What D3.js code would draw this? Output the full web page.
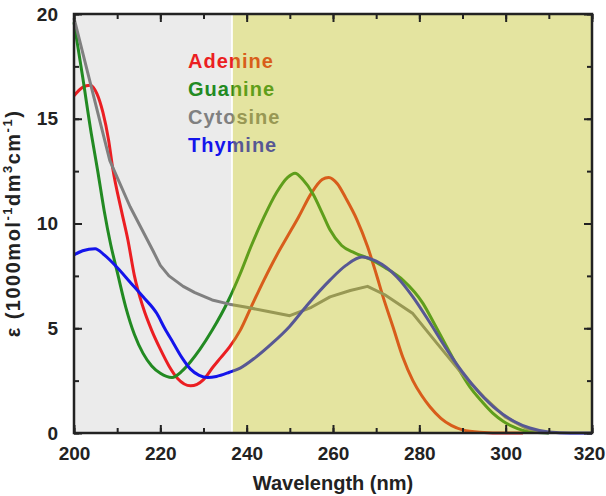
<!DOCTYPE html>
<html>
<head>
<meta charset="utf-8">
<script src="https://cdn.jsdelivr.net/npm/d3@7"></script>
<style>
  body { margin: 0; background: #fff; }
  svg { display: block; font-family: "Liberation Sans", Arial, sans-serif; font-weight: bold; }
</style>
</head>
<body>
<svg id="chart" width="606" height="496"></svg>
<script>
// wavelength (nm) vs molar absorptivity (1000 mol-1 dm3 cm-1)
var adenine = [[200,16.1],[202,16.5],[203.7,16.6],[205.3,16.2],[206.7,15.3],[208,14.0],[209,12.6],[211,10.6],[212.5,9.2],[214,7.5],[216,6.0],[218,4.9],[220,4.0],[222,3.2],[224,2.6],[227,2.25],[230,2.55],[232.2,3.15],[234,3.6],[236,4.1],[238.5,4.9],[241,6.0],[244,7.3],[247,8.5],[249.5,9.4],[252,10.3],[255,11.45],[257.5,12.1],[259,12.2],[261,11.9],[263,11.2],[265.5,10.2],[268,8.9],[270,7.6],[271.6,6.5],[274,5.0],[276.2,3.6],[278.5,2.5],[280.5,1.8],[282.5,1.24],[285,0.7],[287.5,0.35],[290,0.15],[294,0.04],[300,0],[304,0]];
var guanine = [[200,19.6],[202,17.0],[204,14.3],[205.5,12.5],[207,10.6],[208.5,9.0],[210,7.7],[212,6.0],[214,4.7],[216,3.8],[218,3.2],[220,2.85],[222.7,2.65],[225,2.95],[227,3.4],[229.2,4.0],[232,4.9],[235.7,6.3],[238.5,7.6],[241,8.9],[244,10.3],[247,11.5],[249.5,12.2],[251.2,12.4],[253,12.1],[255.4,11.4],[257.5,10.5],[259.3,9.7],[262,8.95],[265,8.6],[268.6,8.3],[272,7.9],[276.2,7.3],[280.8,6.2],[283.5,5.2],[286.4,4.1],[289,3.1],[291.7,2.2],[294.5,1.5],[297,0.95],[299.5,0.55],[301.7,0.3],[305.6,0.05],[310,0]];
var cytosine = [[200,19.8],[208.3,13.0],[213,10.8],[218.3,8.7],[220,8.0],[222,7.5],[225.3,7.0],[228,6.7],[232,6.35],[236,6.15],[240,6.0],[245,5.8],[250,5.6],[255,6.0],[259.3,6.5],[264,6.8],[268,7.0],[272,6.6],[278.5,5.7],[284,4.3],[290,2.8],[295,1.7],[300,0.75],[305,0.2],[310,0]];
var thymine = [[200,8.5],[202,8.7],[204.9,8.8],[207,8.5],[210,7.9],[213,7.2],[216,6.5],[219.2,5.7],[221,5.0],[223,4.3],[225,3.6],[227,3.05],[229,2.75],[231,2.65],[233,2.7],[236,2.9],[238.5,3.1],[242,3.6],[246,4.3],[250,5.1],[254,6.1],[259.3,7.3],[263,8.0],[266.7,8.4],[270,8.2],[274.8,7.45],[278.5,6.5],[282.5,5.25],[286,4.1],[290,2.9],[294,1.9],[298,1.1],[302,0.55],[305.6,0.24],[310,0.05],[315,0],[320,0]];

var seriesNames = ['Adenine', 'Guanine', 'Cytosine', 'Thymine'];
var seriesData = [adenine, guanine, cytosine, thymine];
var seriesColors = ['#eb1e22', '#228a22', '#808080', '#1414eb'];

var xTicks = [200, 220, 240, 260, 280, 300, 320];
var yTicks = [0, 5, 10, 15, 20];
var grayBand = [200, 236.4];
var yellowBand = [236.8, 320];

var svg = d3.select('#chart');
var margin = {left: 74, top: 14, right: 14, bottom: 63};
var W = 606 - margin.left - margin.right;
var H = 496 - margin.top - margin.bottom;

var x = d3.scaleLinear().domain([200, 320]).range([0, W]);
var y = d3.scaleLinear().domain([0, 20]).range([H, 0]);

var g = svg.append('g').attr('transform', 'translate(' + margin.left + ',' + margin.top + ')');

g.append('rect')
    .attr('x', x(grayBand[0])).attr('y', 0)
    .attr('width', x(grayBand[1]) - x(grayBand[0])).attr('height', H)
    .attr('fill', '#ebebeb');

var line = d3.line()
    .x(function(d){ return x(d[0]); })
    .y(function(d){ return y(d[1]); });

for(var i = 0; i < seriesData.length; i++)
{
    var curve = seriesNames[i] === 'Cytosine' ? d3.curveLinear : d3.curveMonotoneX;
    g.append('path')
        .datum(seriesData[i])
        .attr('d', line.curve(curve))
        .attr('fill', 'none')
        .attr('stroke', seriesColors[i])
        .attr('stroke-width', 3)
        .attr('stroke-linejoin', 'round');
}

g.selectAll('text.legend')
    .data(seriesNames)
    .enter()
    .append('text')
    .attr('class', 'legend')
    .attr('x', 114)
    .attr('y', function(d, i){ return 54 + i * 28; })
    .attr('fill', function(d, i){ return seriesColors[i]; })
    .style('font-size', '20px')
    .style('letter-spacing', '1px')
    .text(function(d){ return d; });

// translucent yellow wash on top of the curves
g.append('rect')
    .attr('x', x(yellowBand[0])).attr('y', 0)
    .attr('width', x(yellowBand[1]) - x(yellowBand[0])).attr('height', H)
    .attr('fill', 'rgb(188,188,18)')
    .attr('fill-opacity', 0.4);

function minorTicks(lo, hi, step){
    return d3.range(lo, hi + step / 2, step);
}

function styleAxis(sel){
    sel.select('.domain').remove();
    sel.selectAll('line').attr('stroke', '#222').attr('stroke-width', 2);
    sel.selectAll('text').style('font-size', '19px').attr('fill', '#222');
}

// bottom
g.append('g').attr('transform', 'translate(0,' + H + ')')
    .call(d3.axisBottom(x).tickValues(minorTicks(200, 320, 10)).tickSize(-5).tickFormat(''))
    .call(styleAxis);
var xAxis = g.append('g').attr('transform', 'translate(0,' + H + ')')
    .call(d3.axisBottom(x).tickValues(xTicks).tickSize(-8).tickPadding(14).tickFormat(d3.format('d')))
    .call(styleAxis);
// keep the last label inside the window
xAxis.selectAll('text').filter(function(d){ return d === 320; }).attr('dx', -3);
// top
g.append('g')
    .call(d3.axisTop(x).tickValues(minorTicks(200, 320, 10)).tickSize(-5).tickFormat(''))
    .call(styleAxis);
g.append('g')
    .call(d3.axisTop(x).tickValues(xTicks).tickSize(-8).tickFormat(''))
    .call(styleAxis);
// left
g.append('g')
    .call(d3.axisLeft(y).tickValues(minorTicks(0, 20, 2.5)).tickSize(-5).tickFormat(''))
    .call(styleAxis);
g.append('g')
    .call(d3.axisLeft(y).tickValues(yTicks).tickSize(-8).tickPadding(16).tickFormat(d3.format('d')))
    .call(styleAxis);
// right
g.append('g').attr('transform', 'translate(' + W + ',0)')
    .call(d3.axisRight(y).tickValues(minorTicks(0, 20, 2.5)).tickSize(-5).tickFormat(''))
    .call(styleAxis);
g.append('g').attr('transform', 'translate(' + W + ',0)')
    .call(d3.axisRight(y).tickValues(yTicks).tickSize(-8).tickFormat(''))
    .call(styleAxis);

g.append('rect')
    .attr('width', W).attr('height', H)
    .attr('fill', 'none').attr('stroke', '#222').attr('stroke-width', 2.5);

g.append('text')
    .attr('x', W / 2).attr('y', H + 57)
    .attr('text-anchor', 'middle')
    .style('font-size', '20px')
    .attr('fill', '#222')
    .text('Wavelength (nm)');

var ylab = g.append('text')
    .attr('transform', 'translate(-54,' + (H / 2) + ') rotate(-90)')
    .attr('text-anchor', 'middle')
    .style('font-size', '20px')
    .style('letter-spacing', '1.5px')
    .attr('fill', '#222');
ylab.append('tspan').text('\u03b5 (1000mol');
ylab.append('tspan').attr('dy', -8).style('font-size', '13px').text('-1');
ylab.append('tspan').attr('dy', 8).text('dm');
ylab.append('tspan').attr('dy', -8).style('font-size', '13px').text('3');
ylab.append('tspan').attr('dy', 8).text('cm');
ylab.append('tspan').attr('dy', -8).style('font-size', '13px').text('-1');
ylab.append('tspan').attr('dy', 8).text(')');
</script>
</body>
</html>
